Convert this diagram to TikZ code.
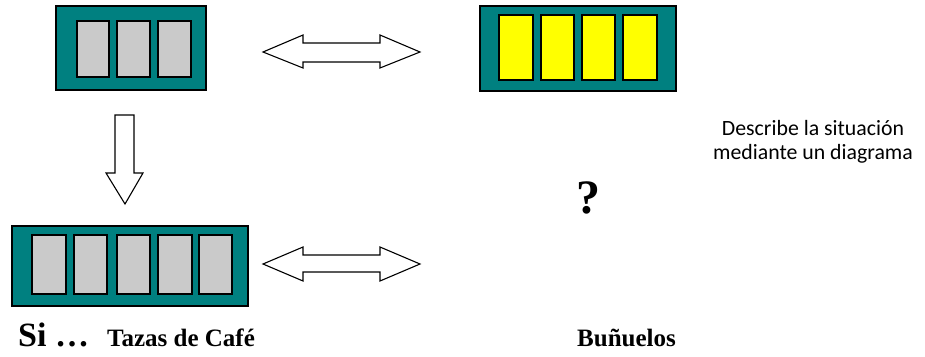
\documentclass[tikz,border=0pt]{standalone}
\usepackage{fontspec}
\setmainfont{Liberation Serif}
\newfontfamily\descfont{Carlito}
\definecolor{tealbox}{HTML}{008080}
\definecolor{greycell}{HTML}{CACACA}
\definecolor{yellowcell}{HTML}{FFFF00}
\tikzset{
  outerbox/.style={fill=tealbox, draw=black, line width=2.2pt},
  cellgrey/.style={fill=greycell, draw=black, line width=2.2pt},
  cellyellow/.style={fill=yellowcell, draw=black, line width=2.2pt},
  blockarrow/.style={fill=white, draw=black, line width=1.1pt, line join=miter},
  boldtext/.style={font=\bfseries\fontsize{25}{30}\selectfont, inner sep=0pt},
}
\begin{document}
\begin{tikzpicture}[x=1pt,y=-1pt]
\useasboundingbox (0,0) rectangle (925,356);
% top-left box: 3 grey cells
\draw[outerbox] (56,6) rectangle (206,90);
\foreach \a/\b in {77/109,117/150,158/191}{\draw[cellgrey] (\a,21) rectangle (\b,77);}
% top-right box: 4 yellow cells
\draw[outerbox] (480,6) rectangle (676,91);
\foreach \a/\b in {499/533,541/574,582/615,623/657}{\draw[cellyellow] (\a,15) rectangle (\b,80);}
% bottom-left box: 5 grey cells
\draw[outerbox] (12,226) rectangle (248,306);
\foreach \a/\b in {32/66,74/107,117/150,158/192,199/232}{\draw[cellgrey] (\a,235) rectangle (\b,294);}
% top double arrow
\draw[blockarrow] (263,52) -- (303,35) -- (303,43) -- (380,43) -- (380,35) -- (420,52)
  -- (380,68) -- (380,62) -- (303,62) -- (303,68) -- cycle;
% bottom double arrow
\draw[blockarrow] (263,264) -- (303,247) -- (303,255) -- (380,255) -- (380,247) -- (420,264)
  -- (380,281) -- (380,272) -- (303,272) -- (303,281) -- cycle;
% down arrow
\draw[blockarrow] (115,115) -- (134,115) -- (134,173) -- (143,173) -- (125,204)
  -- (106,173) -- (115,173) -- cycle;
% texts
\node[boldtext, font=\bfseries\fontsize{34}{38}\selectfont, anchor=base west] (si) at (18,346) {Si …};
\node[boldtext, anchor=base west] (tazas) at (107,346) {Tazas de Café};
\node[boldtext, anchor=base west] (bun) at (577,346) {Buñuelos};
\node[font=\bfseries\fontsize{48}{52}\selectfont, inner sep=0pt, anchor=base] (q) at (588,213) {?};
\node[font=\descfont\fontsize{21.8}{23.5}\selectfont, align=center, inner sep=0pt] (desc) at (813,142)
  {Describe la situación\\mediante un diagrama};
\end{tikzpicture}
\end{document}
